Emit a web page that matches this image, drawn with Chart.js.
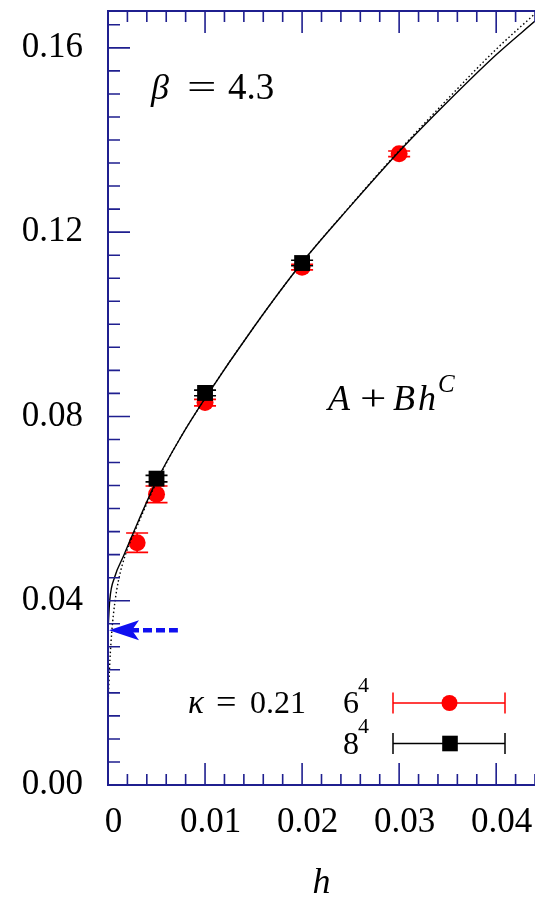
<!DOCTYPE html>
<html>
<head>
<meta charset="utf-8">
<script src="https://cdn.jsdelivr.net/npm/chart.js@4.4.0/dist/chart.umd.min.js"></script>
<style>
  html, body { margin: 0; padding: 0; background: #fff; overflow: hidden; }
  canvas { display: block; }
</style>
</head>
<body>
<canvas id="chart" width="535" height="898"></canvas>
<script>
// values
const hRed = [0.003, 0.005, 0.01, 0.02, 0.03];
const yRed = [0.0526, 0.0631, 0.0830, 0.1124, 0.1370];
const errRed = [0.0021, 0.0018, 0.0007, 0.0006, 0.0006];

const hBlack = [0.005, 0.01, 0.02];
const yBlack = [0.0665, 0.0851, 0.1133];
const errBlack = [0.0007, 0.0006, 0.0006];

// solid fit curve A + B h^C, traced
const hFit = [0, 0.00018, 0.0007, 0.0016, 0.0026, 0.005, 0.0075, 0.01, 0.015, 0.02, 0.025, 0.03, 0.035, 0.04, 0.044];
const yFit = [0.0336, 0.0401, 0.0452, 0.0497, 0.0547, 0.0660, 0.0755, 0.0839, 0.0993, 0.1134, 0.1257, 0.1375, 0.1483, 0.1585, 0.1658];

// dotted curve, traced
const hDot = [0, 0.00003, 0.0001, 0.0002, 0.0004, 0.0007, 0.0011, 0.0018, 0.003, 0.005, 0.0075, 0.01, 0.015, 0.02, 0.025, 0.03, 0.035, 0.04, 0.044];
const yDot = [0.0156, 0.0186, 0.0225, 0.0272, 0.0335, 0.0395, 0.0446, 0.0500, 0.0562, 0.0657, 0.0755, 0.0839, 0.0993, 0.1134, 0.1258, 0.1377, 0.1489, 0.1597, 0.1674];

// h -> 0 limit marked by the blue arrow
const limitA = 0.0336;
const arrowTail = 0.0072;

const xTickValues = [0, 0.01, 0.02, 0.03, 0.04];
const xTickLabels = ["0", "0.01", "0.02", "0.03", "0.04"];
const yTickValues = [0, 0.04, 0.08, 0.12, 0.16];
const yTickLabels = ["0.00", "0.04", "0.08", "0.12", "0.16"];

const SERIF = '"Liberation Serif", "DejaVu Serif", serif';
const NAVY = "#1f1f8f";
const BLUE = "#1010f0";

const pts = (xs, ys) => xs.map((v, i) => ({ x: v, y: ys[i] }));

// frame with inward ticks (left, bottom, top)
const frame = {
  id: "frame",
  afterDatasetsDraw(chart) {
    const { ctx, chartArea: a, scales: { x, y } } = chart;
    ctx.save();
    ctx.strokeStyle = NAVY;
    ctx.lineWidth = 2;
    ctx.beginPath();
    ctx.moveTo(chart.width, a.top); ctx.lineTo(a.left, a.top);
    ctx.lineTo(a.left, a.bottom); ctx.lineTo(chart.width, a.bottom);
    ctx.stroke();

    ctx.lineWidth = 1.6;
    ctx.beginPath();
    for (let k = 1; k * 0.002 <= x.max + 1e-9; k++) {
      const px = x.getPixelForValue(k * 0.002);
      const len = k % 5 === 0 ? 22 : 11;
      ctx.moveTo(px, a.bottom); ctx.lineTo(px, a.bottom - len);
      ctx.moveTo(px, a.top); ctx.lineTo(px, a.top + len);
    }
    for (let k = 1; k * 0.005 <= y.max + 1e-9; k++) {
      const py = y.getPixelForValue(k * 0.005);
      const len = k % 8 === 0 ? 22 : 12;
      ctx.moveTo(a.left, py); ctx.lineTo(a.left + len, py);
    }
    ctx.stroke();
    ctx.restore();
  }
};

// vertical error bars with caps, drawn under each dataset's markers
const errorBars = {
  id: "errorBars",
  beforeDatasetDraw(chart, args) {
    const ds = chart.data.datasets[args.index];
    if (!ds.errors) return;
    const { ctx, scales: { x, y } } = chart;
    ctx.save();
    ctx.strokeStyle = ds.backgroundColor;
    ctx.lineWidth = 1.6;
    ctx.beginPath();
    ds.data.forEach((p, i) => {
      const px = x.getPixelForValue(p.x);
      const top = y.getPixelForValue(p.y + ds.errors[i]);
      const bot = y.getPixelForValue(p.y - ds.errors[i]);
      ctx.moveTo(px, top); ctx.lineTo(px, bot);
      ctx.moveTo(px - 11, top); ctx.lineTo(px + 11, top);
      ctx.moveTo(px - 11, bot); ctx.lineTo(px + 11, bot);
    });
    ctx.stroke();
    ctx.restore();
  }
};

function put(ctx, text, x, y, size, italic, sx) {
  ctx.save();
  ctx.font = (italic ? "italic " : "") + size + "px " + SERIF;
  ctx.translate(x, y);
  if (sx) ctx.scale(sx, 1);
  ctx.fillText(text, 0, 0);
  ctx.restore();
}

// texts, legend and the arrow
const notes = {
  id: "notes",
  afterDraw(chart) {
    const { ctx, scales: { x, y } } = chart;
    ctx.save();
    ctx.fillStyle = "#000";
    ctx.textBaseline = "alphabetic";

    put(ctx, "β", 151, 99, 36, true);
    put(ctx, "=", 187, 99, 36, false, 1.45);
    put(ctx, "4.3", 228, 99, 37, false);

    put(ctx, "A", 328, 410, 36, true);
    put(ctx, "+", 360, 410, 36, false, 1.3);
    put(ctx, "B", 393, 410, 36, true);
    put(ctx, "h", 418, 410, 36, true);
    put(ctx, "C", 438, 392, 25, true);

    put(ctx, "κ", 188, 713, 33, true);
    put(ctx, "=", 216, 713, 33, false, 1.1);
    put(ctx, "0.21", 250, 713, 32, false);
    put(ctx, "6", 343, 713, 32, false);
    put(ctx, "4", 358, 692, 22, false);
    put(ctx, "8", 343, 754, 32, false);
    put(ctx, "4", 358, 733, 22, false);

    // legend keys
    const keys = [
      { y: 703, color: "#ff0000", shape: "circle" },
      { y: 743.5, color: "#000000", shape: "rect" }
    ];
    keys.forEach(k => {
      ctx.strokeStyle = k.color;
      ctx.fillStyle = k.color;
      ctx.lineWidth = 1.5;
      ctx.beginPath();
      ctx.moveTo(393, k.y); ctx.lineTo(505, k.y);
      ctx.moveTo(393, k.y - 10.5); ctx.lineTo(393, k.y + 10.5);
      ctx.moveTo(505, k.y - 10.5); ctx.lineTo(505, k.y + 10.5);
      ctx.stroke();
      if (k.shape === "circle") {
        ctx.beginPath(); ctx.arc(449.5, k.y, 8, 0, Math.PI * 2); ctx.fill();
      } else {
        ctx.fillRect(450 - 7.8, k.y - 7.8, 15.6, 15.6);
      }
    });

    // blue dashed arrow pointing at the h=0 limit
    const yA = y.getPixelForValue(limitA);
    const x0 = x.getPixelForValue(0);
    const x1 = x.getPixelForValue(arrowTail);
    ctx.fillStyle = BLUE;
    ctx.strokeStyle = BLUE;
    ctx.beginPath();
    ctx.moveTo(x0 + 1, yA);
    ctx.lineTo(x0 + 31, yA - 10);
    ctx.lineTo(x0 + 24, yA);
    ctx.lineTo(x0 + 31, yA + 10);
    ctx.closePath();
    ctx.fill();
    ctx.lineWidth = 4.5;
    ctx.setLineDash([9, 4]);
    ctx.beginPath();
    ctx.moveTo(x0 + 22, yA); ctx.lineTo(x1, yA);
    ctx.stroke();
    ctx.restore();
  }
};

const tickFont = { family: SERIF, size: 35 };

new Chart(document.getElementById("chart").getContext("2d"), {
  type: "scatter",
  data: {
    datasets: [
      {
        label: "fit", data: pts(hFit, yFit), showLine: true,
        borderColor: "#000", borderWidth: 1.4, pointRadius: 0,
        cubicInterpolationMode: "monotone", fill: false
      },
      {
        label: "fit dotted", data: pts(hDot, yDot), showLine: true,
        borderColor: "#000", borderWidth: 1.4, borderDash: [1.5, 2.5], pointRadius: 0,
        cubicInterpolationMode: "monotone", fill: false
      },
      {
        label: "8^4", data: pts(hBlack, yBlack), errors: errBlack,
        pointStyle: "rect", pointRadius: 11.2, backgroundColor: "#000000", borderWidth: 0
      },
      {
        label: "6^4", data: pts(hRed, yRed), errors: errRed,
        pointStyle: "circle", pointRadius: 8.5, backgroundColor: "#ff0000", borderWidth: 0
      }
    ]
  },
  options: {
    responsive: false,
    animation: false,
    events: [],
    layout: { autoPadding: false, padding: { top: 11, right: 0, left: 0, bottom: 0 } },
    plugins: { legend: { display: false }, tooltip: { enabled: false } },
    scales: {
      x: {
        type: "linear", min: 0, max: 0.044,
        afterBuildTicks: s => { s.ticks = xTickValues.map(v => ({ value: v })); },
        afterFit: s => { s.height = 113; s.paddingLeft = 0; s.paddingRight = 0; },
        grid: { display: false, drawTicks: false },
        border: { display: false },
        ticks: {
          callback: (v, i) => xTickLabels[i], font: tickFont, color: "#000",
          padding: 17, labelOffset: 5.5, maxRotation: 0, autoSkip: false
        },
        title: {
          display: true, text: "h", color: "#000",
          font: { family: SERIF, size: 36, style: "italic", lineHeight: 0.8 },
          padding: { top: 0, bottom: 0 }
        }
      },
      y: {
        type: "linear", min: 0, max: 0.168,
        afterBuildTicks: s => { s.ticks = yTickValues.map(v => ({ value: v })); },
        afterFit: s => { s.width = 108; s.paddingTop = 0; s.paddingBottom = 0; },
        grid: { display: false, drawTicks: false },
        border: { display: false },
        ticks: {
          callback: (v, i) => yTickLabels[i], font: tickFont, color: "#000",
          padding: 25, autoSkip: false
        }
      }
    }
  },
  plugins: [errorBars, frame, notes]
});
</script>
</body>
</html>
